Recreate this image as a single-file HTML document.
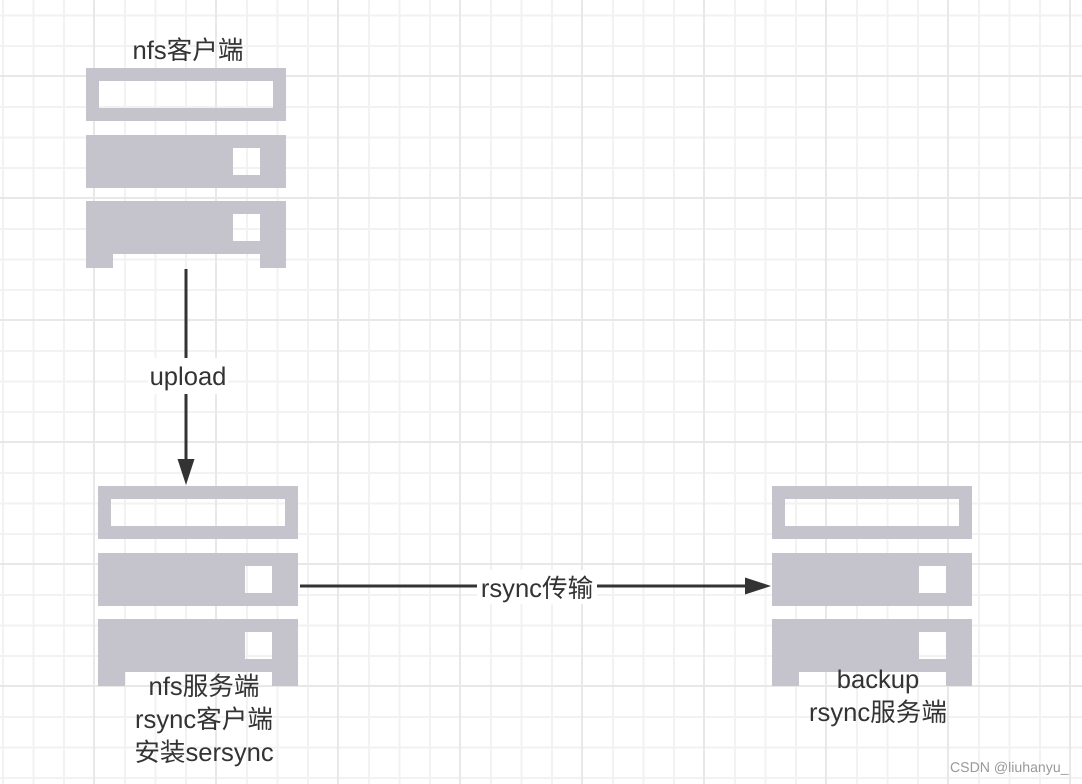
<!DOCTYPE html>
<html><head><meta charset="utf-8">
<style>
html,body{margin:0;padding:0;background:#fff}
#c{position:relative;width:1082px;height:784px;overflow:hidden;background:#fff}
svg{position:absolute;left:0;top:0}
.t{position:absolute;font-family:"Liberation Sans","Noto Sans CJK SC",sans-serif;font-size:25.6px;line-height:33px;color:#333;text-align:center;white-space:nowrap;text-rendering:geometricPrecision}
</style></head>
<body><div id="c">
<svg width="1082" height="784" viewBox="0 0 1082 784">
<g stroke="#f2f2f2" stroke-width="2">
<path d="M3 0V784M33.500 0V784M64 0V784M125 0V784M155.500 0V784M186 0V784M247 0V784M277.500 0V784M308 0V784M369 0V784M399.500 0V784M430 0V784M491 0V784M521.500 0V784M552 0V784M613 0V784M643.500 0V784M674 0V784M735 0V784M765.500 0V784M796 0V784M857 0V784M887.500 0V784M918 0V784M979 0V784M1009.500 0V784M1040 0V784"/>
<path d="M0 15.500H1082M0 46H1082M0 107H1082M0 137.500H1082M0 168H1082M0 229H1082M0 259.500H1082M0 290H1082M0 351H1082M0 381.500H1082M0 412H1082M0 473H1082M0 503.500H1082M0 534H1082M0 595H1082M0 625.500H1082M0 656H1082M0 717H1082M0 747.500H1082M0 778H1082"/>
</g>
<g stroke="#e8e8e8" stroke-width="2">
<path d="M94 0V784M216 0V784M338 0V784M460 0V784M582 0V784M704 0V784M826 0V784M948 0V784M1070 0V784"/>
<path d="M0 76H1082M0 198H1082M0 320H1082M0 442H1082M0 564H1082M0 686H1082"/>
</g>
<g fill="#c5c4cd" fill-rule="evenodd">
<path d="M86 68H286V121H86ZM99 81V108H273V81Z"/>
<path d="M86 135H286V188H86ZM233 148V175H260V148Z"/>
<path d="M86 201H286V268H260V254H113V268H86ZM233 214V241H260V214Z"/>
<path d="M98 486H298V539H98ZM111 499V526H285V499Z"/>
<path d="M98 553H298V606H98ZM245 566V593H272V566Z"/>
<path d="M98 619H298V686H272V672H125V686H98ZM245 632V659H272V632Z"/>
<path d="M772 486H972V539H772ZM785 499V526H959V499Z"/>
<path d="M772 553H972V606H772ZM919 566V593H946V566Z"/>
<path d="M772 619H972V686H946V672H799V686H772ZM919 632V659H946V632Z"/>
</g>
<path d="M186 269V460" stroke="#333" stroke-width="3" fill="none"/>
<path d="M177.500 459H194.500L186 485Z" fill="#333"/>
<path d="M300 586H746" stroke="#333" stroke-width="3" fill="none"/>
<path d="M745 577.500V594.500L771 586Z" fill="#333"/>
<rect x="148" y="358" width="80" height="36" fill="#fff"/>
<rect x="477" y="570" width="120" height="34" fill="#fff"/>
</svg>
<div class="t" style="left:88px;top:35px;width:200px">nfs客户端</div>
<div class="t" style="left:88px;top:361px;width:200px">upload</div>
<div class="t" style="left:437px;top:573px;width:200px">rsync传输</div>
<div class="t" style="left:104px;top:671px;width:200px">nfs服务端<br>rsync客户端<br>安装sersync</div>
<div class="t" style="left:778px;top:664px;width:200px">backup<br>rsync服务端</div>
<div class="t" style="left:950px;top:758px;font-size:14.100px;line-height:18px;color:#999;text-align:left">CSDN @liuhanyu_</div>
</div></body></html>
